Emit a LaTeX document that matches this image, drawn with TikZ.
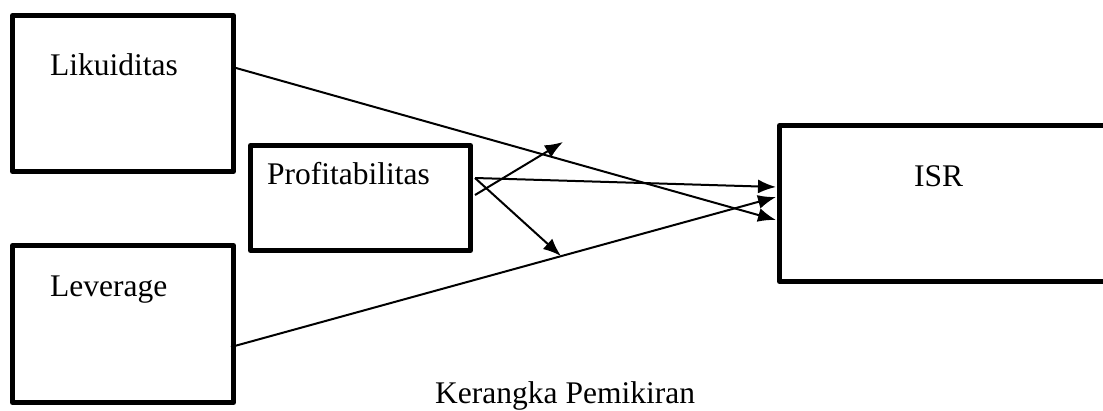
\documentclass[tikz,border=0pt]{standalone}
\usepackage{fontspec}
\setmainfont{Liberation Serif}
\usetikzlibrary{arrows.meta}
\begin{document}
\begin{tikzpicture}[x=1pt,y=-1pt,
  box/.style={draw=black,line width=5pt,line join=round,rectangle,inner sep=0pt},
  txt/.style={anchor=base west,inner sep=0pt,font=\fontsize{31.5}{36}\selectfont},
  conn/.style={line width=2pt,-{Latex[length=18pt,width=14pt]}}]
\useasboundingbox (0,0) rectangle (1103,411);
\clip (0,0) rectangle (1103,411);
\node[box,minimum width=221pt,minimum height=156pt] (lik) at (123,93.5) {};
\node[box,minimum width=221pt,minimum height=157pt] (lev) at (123,324) {};
\node[box,minimum width=220pt,minimum height=105pt] (prof) at (360.5,198) {};
\node[box,minimum width=351pt,minimum height=156pt] (isr) at (955,203.5) {};
\node[txt] (tlik) at (50,76) {Likuiditas};
\node[txt] (tlev) at (50,297) {Leverage};
\node[txt] (tprof) at (267,185) {Profitabilitas};
\node[txt] (tisr) at (914,187) {ISR};
\node[txt] (cap) at (435,403) {Kerangka Pemikiran};
% connector endpoints
\coordinate (likout) at (236,68);
\coordinate (levout) at (231,347);
\coordinate (profout1) at (475,178);
\coordinate (profout2) at (475,195);
\coordinate (isrin1) at (776,187);
\coordinate (isrin2) at (776,197);
\coordinate (isrin3) at (776,220);
\coordinate (up) at (563,142);
\coordinate (down) at (561,256);
\draw[conn] (likout) -- (isrin3);
\draw[conn] (profout1) -- (isrin1);
\draw[conn] (levout) -- (isrin2);
\draw[conn] (profout2) -- (up);
\draw[conn] (profout1) -- (down);
\end{tikzpicture}
\end{document}
